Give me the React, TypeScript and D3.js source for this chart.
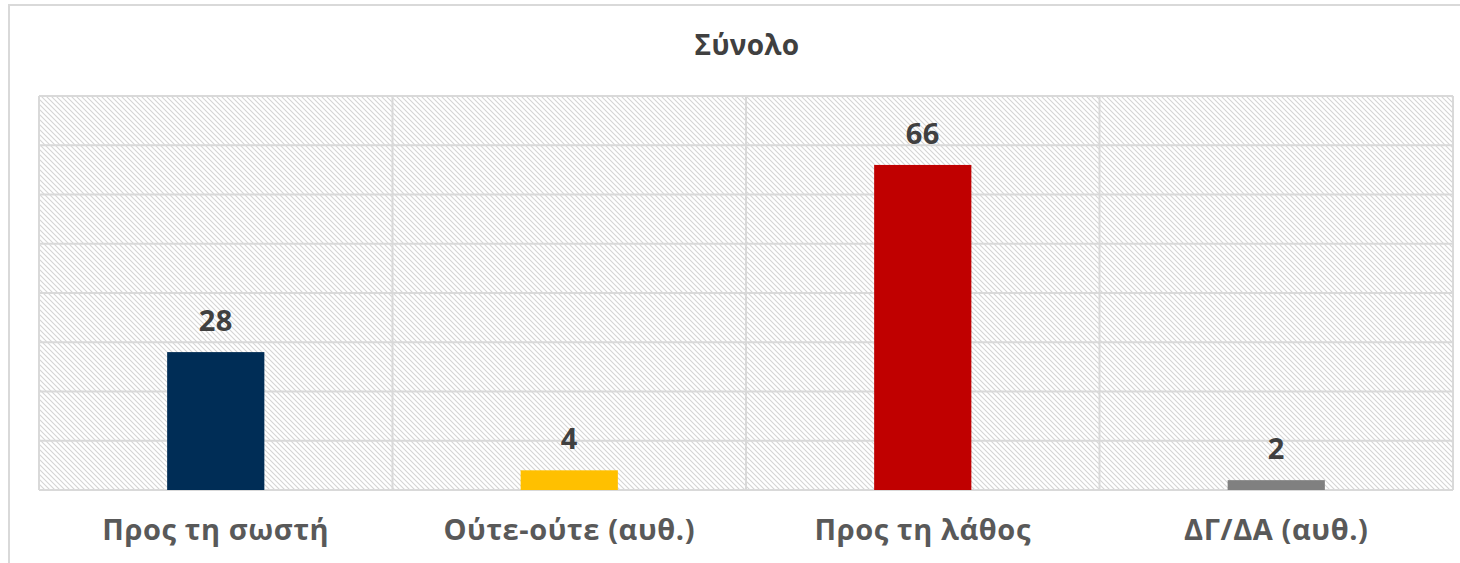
import React from "react";
import * as d3 from "d3";

const categories = ["Προς τη σωστή", "Ούτε-ούτε (αυθ.)", "Προς τη λάθος", "ΔΓ/ΔΑ (αυθ.)"];
const values = [28, 4, 66, 2];
const colors = ["#002D56", "#FFC000", "#C00000", "#808080"];
const title = "Σύνολο";
const yTicks = [0, 10, 20, 30, 40, 50, 60, 70, 80];

const W = 1460, H = 563;
const plot = { left: 39, right: 1453, top: 96, bottom: 490 };
const FONT = "'Open Sans', 'DejaVu Sans', sans-serif";

export default function App() {
  const x = d3.scaleBand<string>().domain(categories).range([plot.left, plot.right]).paddingInner(0).paddingOuter(0);
  const y = d3.scaleLinear().domain([0, 80]).range([plot.bottom, plot.top]);
  const bw = x.bandwidth() * 0.275;
  return (
    <svg width={W} height={H} style={{ position: "absolute", left: 0, top: 0, background: "#fff" }}>
      <defs>
        <pattern id="hatch" patternUnits="userSpaceOnUse" width={5} height={5}>
          <path d="M-1,-1 L6,6 M-1,4 L1,6 M4,-1 L6,1" stroke="#d4d4d4" strokeWidth={1.1} />
        </pattern>
      </defs>
      <rect x={9} y={5} width={1470} height={600} fill="#fff" stroke="#d9d9d9" strokeWidth={2} />
      <text x={(plot.left + plot.right) / 2 + 1} y={55} textAnchor="middle" fontFamily={FONT} fontWeight="bold" fontSize={28} letterSpacing={0.3} fill="#404040">{title}</text>
      <rect x={plot.left} y={plot.top} width={plot.right - plot.left} height={plot.bottom - plot.top} fill="url(#hatch)" />
      {yTicks.map((t) => (
        <line key={t} x1={plot.left} x2={plot.right} y1={y(t)} y2={y(t)} stroke="#d9d9d9" strokeWidth={2} />
      ))}
      {[...categories.map((c) => x(c) as number), plot.right].map((v, i) => (
        <line key={i} x1={v} x2={v} y1={plot.top} y2={plot.bottom} stroke="#d9d9d9" strokeWidth={2} />
      ))}
      {categories.map((c, i) => {
        const cx = (x(c) as number) + x.bandwidth() / 2;
        return (
          <g key={c}>
            <rect x={cx - bw / 2} y={y(values[i])} width={bw} height={plot.bottom - y(values[i])} fill={colors[i]} />
            <text x={cx} y={y(values[i]) - 21} textAnchor="middle" fontFamily={FONT} fontWeight="bold" fontSize={29} letterSpacing={0.5} fill="#404040">{values[i]}</text>
            <text x={cx} y={540} textAnchor="middle" fontFamily={FONT} fontWeight="bold" fontSize={29} letterSpacing={0.6} fill="#595959">{c}</text>
          </g>
        );
      })}
    </svg>
  );
}
